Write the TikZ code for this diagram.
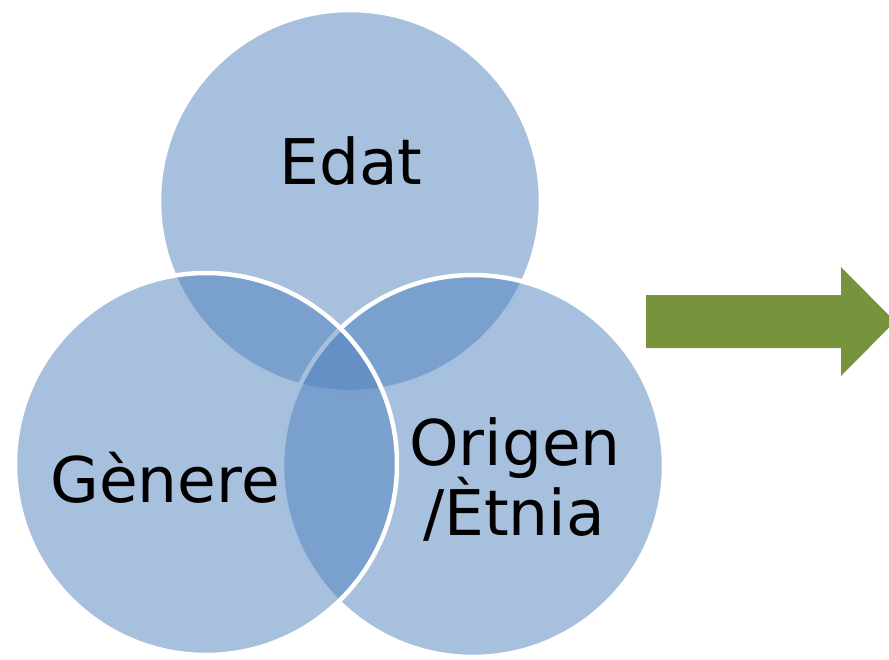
\documentclass[tikz,border=0pt]{standalone}
\usepackage{fontspec}
\setmainfont{DejaVu Sans}
\definecolor{setblue}{HTML}{4F81BD}
\definecolor{arrowgreen}{HTML}{77933C}
\begin{document}
\begin{tikzpicture}[x=0.5pt,y=-0.5pt,
    set/.style={circle,minimum size=191pt,inner sep=0pt,
        fill=setblue,fill opacity=0.5,draw=white,line width=2.25pt},
    lbl/.style={anchor=base,inner sep=0pt,font=\fontsize{31.5}{36}\selectfont}]
    \useasboundingbox (0,0) rectangle (889,659);
    \node[set] (edat) at (350,201) {};
    \node[set] (origen) at (473,466) {};
    \node[set] (genere) at (206,464) {};
    \node[lbl] (edatlbl) at (351,184) {Edat};
    \node[lbl] (generelbl) at (165,502) {Gènere};
    \node[lbl] (origenlbl) at (515,465) {Origen};
    \node[lbl] (etnialbl) at (514,535) {/Ètnia};
    \fill[arrowgreen] (646,295) -- (841,295) -- (841,267) -- (895,321.5)
        -- (841,376) -- (841,348) -- (646,348) -- cycle;
\end{tikzpicture}
\end{document}
